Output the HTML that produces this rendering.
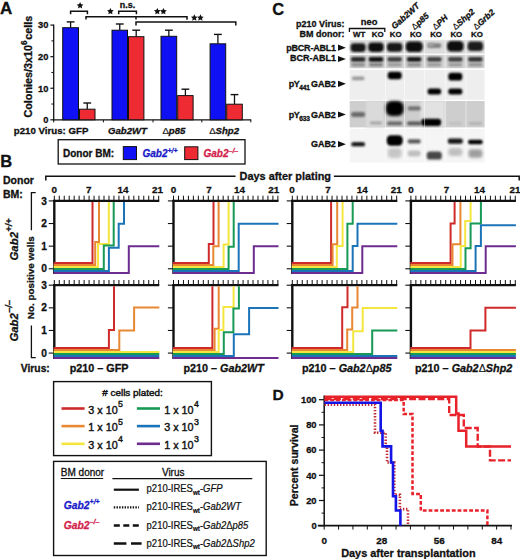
<!DOCTYPE html>
<html><head><meta charset="utf-8"><style>
html,body{margin:0;padding:0;background:#fff;}
body{width:520px;height:559px;overflow:hidden;font-family:"Liberation Sans",sans-serif;}
svg{display:block;}
</style></head><body>
<svg width="520" height="559" viewBox="0 0 520 559">
<rect width="520" height="559" fill="#fff"/>
<text x="0" y="14.4" font-family="Liberation Sans" font-weight="bold" font-size="17" text-anchor="start" fill="#111"  stroke="#111" stroke-width="0.3">A</text>
<text transform="translate(31.6,117.6) rotate(-90)" font-family="Liberation Sans" font-weight="bold" font-size="10.8" fill="#111" stroke="#111" stroke-width="0.3">Colonies/3x10<tspan font-size="8.2" dy="-4.6">6</tspan><tspan dy="4.6" dx="0.6">cells</tspan></text>
<line x1="53.7" y1="24.51999999999999" x2="53.7" y2="120.39999999999999" stroke="#111" stroke-width="1.3" />
<line x1="53.0" y1="119.8" x2="251.2" y2="119.8" stroke="#111" stroke-width="1.3" />
<line x1="50.4" y1="119.8" x2="53.7" y2="119.8" stroke="#111" stroke-width="1.2" />
<text x="48.4" y="123.1" font-family="Liberation Sans" font-weight="bold" font-size="9.3" text-anchor="end" fill="#111"  stroke="#111" stroke-width="0.3">0</text>
<line x1="50.4" y1="88.24" x2="53.7" y2="88.24" stroke="#111" stroke-width="1.2" />
<text x="48.4" y="91.53999999999999" font-family="Liberation Sans" font-weight="bold" font-size="9.3" text-anchor="end" fill="#111"  stroke="#111" stroke-width="0.3">10</text>
<line x1="50.4" y1="56.67999999999999" x2="53.7" y2="56.67999999999999" stroke="#111" stroke-width="1.2" />
<text x="48.4" y="59.97999999999999" font-family="Liberation Sans" font-weight="bold" font-size="9.3" text-anchor="end" fill="#111"  stroke="#111" stroke-width="0.3">20</text>
<line x1="50.4" y1="25.11999999999999" x2="53.7" y2="25.11999999999999" stroke="#111" stroke-width="1.2" />
<text x="48.4" y="28.41999999999999" font-family="Liberation Sans" font-weight="bold" font-size="9.3" text-anchor="end" fill="#111"  stroke="#111" stroke-width="0.3">30</text>
<line x1="51.4" y1="104.02" x2="53.7" y2="104.02" stroke="#111" stroke-width="1.0" />
<line x1="51.4" y1="72.46" x2="53.7" y2="72.46" stroke="#111" stroke-width="1.0" />
<line x1="51.4" y1="40.89999999999999" x2="53.7" y2="40.89999999999999" stroke="#111" stroke-width="1.0" />
<line x1="53.7" y1="119.8" x2="53.7" y2="122.39999999999999" stroke="#111" stroke-width="1.0" />
<line x1="103.4" y1="119.8" x2="103.4" y2="122.39999999999999" stroke="#111" stroke-width="1.0" />
<line x1="153.0" y1="119.8" x2="153.0" y2="122.39999999999999" stroke="#111" stroke-width="1.0" />
<line x1="201.8" y1="119.8" x2="201.8" y2="122.39999999999999" stroke="#111" stroke-width="1.0" />
<line x1="250.8" y1="119.8" x2="250.8" y2="122.39999999999999" stroke="#111" stroke-width="1.0" />
<line x1="70.6" y1="21.9" x2="70.6" y2="27.7" stroke="#111" stroke-width="1.3" />
<line x1="66.69999999999999" y1="21.9" x2="74.5" y2="21.9" stroke="#111" stroke-width="1.4" />
<rect x="62.7" y="27.7" width="15.799999999999997" height="92.1" fill="#1010f4" stroke="#111" stroke-width="1"/>
<line x1="87.25" y1="103.0" x2="87.25" y2="109.2" stroke="#111" stroke-width="1.3" />
<line x1="83.35" y1="103.0" x2="91.15" y2="103.0" stroke="#111" stroke-width="1.4" />
<rect x="79.5" y="109.2" width="15.5" height="10.599999999999994" fill="#ee2b33" stroke="#111" stroke-width="1"/>
<line x1="119.75" y1="24.0" x2="119.75" y2="30.2" stroke="#111" stroke-width="1.3" />
<line x1="115.85" y1="24.0" x2="123.65" y2="24.0" stroke="#111" stroke-width="1.4" />
<rect x="112.0" y="30.2" width="15.5" height="89.6" fill="#1010f4" stroke="#111" stroke-width="1"/>
<line x1="136.2" y1="30.2" x2="136.2" y2="36.7" stroke="#111" stroke-width="1.3" />
<line x1="132.29999999999998" y1="30.2" x2="140.1" y2="30.2" stroke="#111" stroke-width="1.4" />
<rect x="128.5" y="36.7" width="15.400000000000006" height="83.1" fill="#ee2b33" stroke="#111" stroke-width="1"/>
<line x1="168.85" y1="30.2" x2="168.85" y2="36.3" stroke="#111" stroke-width="1.3" />
<line x1="164.95" y1="30.2" x2="172.75" y2="30.2" stroke="#111" stroke-width="1.4" />
<rect x="161.0" y="36.3" width="15.699999999999989" height="83.5" fill="#1010f4" stroke="#111" stroke-width="1"/>
<line x1="185.39999999999998" y1="89.2" x2="185.39999999999998" y2="95.6" stroke="#111" stroke-width="1.3" />
<line x1="181.49999999999997" y1="89.2" x2="189.29999999999998" y2="89.2" stroke="#111" stroke-width="1.4" />
<rect x="177.7" y="95.6" width="15.400000000000006" height="24.200000000000003" fill="#ee2b33" stroke="#111" stroke-width="1"/>
<line x1="217.89999999999998" y1="34.4" x2="217.89999999999998" y2="43.8" stroke="#111" stroke-width="1.3" />
<line x1="213.99999999999997" y1="34.4" x2="221.79999999999998" y2="34.4" stroke="#111" stroke-width="1.4" />
<rect x="210.1" y="43.8" width="15.599999999999994" height="76.0" fill="#1010f4" stroke="#111" stroke-width="1"/>
<line x1="234.5" y1="94.6" x2="234.5" y2="104.2" stroke="#111" stroke-width="1.3" />
<line x1="230.6" y1="94.6" x2="238.4" y2="94.6" stroke="#111" stroke-width="1.4" />
<rect x="226.7" y="104.2" width="15.600000000000023" height="15.599999999999994" fill="#ee2b33" stroke="#111" stroke-width="1"/>
<path d="M70.6,14.2 V11.3 H87.4 V14.2" stroke="#111" stroke-width="1.5" fill="none" />
<polygon points="80.10,2.10 81.13,4.18 83.43,4.52 81.76,6.14 82.16,8.43 80.10,7.35 78.04,8.43 78.44,6.14 76.77,4.52 79.07,4.18" fill="#111"/>
<path d="M86.0,19.4 V16.7 H187.0 V19.7 M136.0,16.7 V19.4" stroke="#111" stroke-width="1.5" fill="none" />
<polygon points="110.40,7.90 111.43,9.98 113.73,10.32 112.06,11.94 112.46,14.23 110.40,13.15 108.34,14.23 108.74,11.94 107.07,10.32 109.37,9.98" fill="#111"/>
<path d="M118.7,14.2 V11.3 H136.4 V14.2" stroke="#111" stroke-width="1.5" fill="none" />
<text x="127.6" y="7.7" font-family="Liberation Sans" font-weight="bold" font-size="9.0" text-anchor="middle" fill="#111"  stroke="#111" stroke-width="0.3">n.s.</text>
<polygon points="157.30,7.90 158.33,9.98 160.63,10.32 158.96,11.94 159.36,14.23 157.30,13.15 155.24,14.23 155.64,11.94 153.97,10.32 156.27,9.98" fill="#111"/>
<polygon points="163.40,7.90 164.43,9.98 166.73,10.32 165.06,11.94 165.46,14.23 163.40,13.15 161.34,14.23 161.74,11.94 160.07,10.32 162.37,9.98" fill="#111"/>
<path d="M136.0,25.6 V21.9 H235.8 V25.6" stroke="#111" stroke-width="1.5" fill="none" />
<polygon points="194.30,14.30 195.33,16.38 197.63,16.72 195.96,18.34 196.36,20.63 194.30,19.55 192.24,20.63 192.64,18.34 190.97,16.72 193.27,16.38" fill="#111"/>
<polygon points="200.40,14.30 201.43,16.38 203.73,16.72 202.06,18.34 202.46,20.63 200.40,19.55 198.34,20.63 198.74,18.34 197.07,16.72 199.37,16.38" fill="#111"/>
<text x="13.8" y="133.6" font-family="Liberation Sans" font-weight="bold" font-size="9.7" text-anchor="start" fill="#111"  stroke="#111" stroke-width="0.3">p210 Virus: GFP</text>
<text x="108.0" y="133.6" font-family="Liberation Sans" font-weight="bold" font-size="9.6" text-anchor="start" fill="#111" font-style="italic"  stroke="#111" stroke-width="0.3">Gab2WT</text>
<text x="162.4" y="133.6" font-family="Liberation Sans" font-weight="bold" font-size="9.6" text-anchor="start" fill="#111" font-style="italic"  stroke="#111" stroke-width="0.3"><tspan font-style="normal" font-weight="normal" stroke-width="0.15">Δ</tspan>p85</text>
<text x="209.2" y="133.6" font-family="Liberation Sans" font-weight="bold" font-size="9.6" text-anchor="start" fill="#111" font-style="italic"  stroke="#111" stroke-width="0.3"><tspan font-style="normal" font-weight="normal" stroke-width="0.15">Δ</tspan>Shp2</text>
<rect x="58.2" y="139.7" width="186.8" height="24.3" fill="none" stroke="#111" stroke-width="1.3"/>
<text x="63.0" y="157.0" font-family="Liberation Sans" font-weight="bold" font-size="10.0" text-anchor="start" fill="#111"  stroke="#111" stroke-width="0.3">Donor BM:</text>
<rect x="123.3" y="146.6" width="13.2" height="13" fill="#1010f4" stroke="#111" stroke-width="1"/>
<text x="142.5" y="157.0" font-family="Liberation Sans" font-weight="bold" font-size="10.0" text-anchor="start" fill="#1c1cc8" font-style="italic"  stroke="#1c1cc8" stroke-width="0.3">Gab2<tspan font-size="7" dy="-4.5">+/+</tspan></text>
<rect x="184.7" y="146.8" width="13.2" height="12.8" fill="#ee2b33" stroke="#111" stroke-width="1"/>
<text x="203.5" y="157.0" font-family="Liberation Sans" font-weight="bold" font-size="10.0" text-anchor="start" fill="#d21f4c" font-style="italic"  stroke="#d21f4c" stroke-width="0.3">Gab2<tspan font-size="7" dy="-4.5">–/–</tspan></text>
<text x="0.3" y="167.2" font-family="Liberation Sans" font-weight="bold" font-size="16.5" text-anchor="start" fill="#111"  stroke="#111" stroke-width="0.3">B</text>
<text x="3.0" y="183.6" font-family="Liberation Sans" font-weight="bold" font-size="10.5" text-anchor="start" fill="#111"  stroke="#111" stroke-width="0.3">Donor</text>
<text x="3.0" y="197.8" font-family="Liberation Sans" font-weight="bold" font-size="10.5" text-anchor="start" fill="#111"  stroke="#111" stroke-width="0.3">BM:</text>
<path d="M45.8,180.4 V176.2 H235.6 M333.9,176.2 H519.2 V180.4" stroke="#111" stroke-width="1.5" fill="none" />
<text x="239.6" y="180.4" font-family="Liberation Sans" font-weight="bold" font-size="10.9" text-anchor="start" fill="#111"  stroke="#111" stroke-width="0.3">Days after plating</text>
<line x1="54.3" y1="195.70000000000002" x2="54.3" y2="200.9" stroke="#111" stroke-width="1.0" />
<line x1="59.269999999999996" y1="195.70000000000002" x2="59.269999999999996" y2="200.9" stroke="#111" stroke-width="1.0" />
<line x1="64.24" y1="195.70000000000002" x2="64.24" y2="200.9" stroke="#111" stroke-width="1.0" />
<line x1="69.21" y1="195.70000000000002" x2="69.21" y2="200.9" stroke="#111" stroke-width="1.0" />
<line x1="74.17999999999999" y1="195.70000000000002" x2="74.17999999999999" y2="200.9" stroke="#111" stroke-width="1.0" />
<line x1="79.14999999999999" y1="195.70000000000002" x2="79.14999999999999" y2="200.9" stroke="#111" stroke-width="1.0" />
<line x1="84.12" y1="195.70000000000002" x2="84.12" y2="200.9" stroke="#111" stroke-width="1.0" />
<line x1="89.09" y1="195.70000000000002" x2="89.09" y2="200.9" stroke="#111" stroke-width="1.0" />
<line x1="94.06" y1="195.70000000000002" x2="94.06" y2="200.9" stroke="#111" stroke-width="1.0" />
<line x1="99.03" y1="195.70000000000002" x2="99.03" y2="200.9" stroke="#111" stroke-width="1.0" />
<line x1="104.0" y1="195.70000000000002" x2="104.0" y2="200.9" stroke="#111" stroke-width="1.0" />
<line x1="108.97" y1="195.70000000000002" x2="108.97" y2="200.9" stroke="#111" stroke-width="1.0" />
<line x1="113.94" y1="195.70000000000002" x2="113.94" y2="200.9" stroke="#111" stroke-width="1.0" />
<line x1="118.91" y1="195.70000000000002" x2="118.91" y2="200.9" stroke="#111" stroke-width="1.0" />
<line x1="123.88" y1="195.70000000000002" x2="123.88" y2="200.9" stroke="#111" stroke-width="1.0" />
<line x1="128.85" y1="195.70000000000002" x2="128.85" y2="200.9" stroke="#111" stroke-width="1.0" />
<line x1="133.82" y1="195.70000000000002" x2="133.82" y2="200.9" stroke="#111" stroke-width="1.0" />
<line x1="138.79" y1="195.70000000000002" x2="138.79" y2="200.9" stroke="#111" stroke-width="1.0" />
<line x1="143.76" y1="195.70000000000002" x2="143.76" y2="200.9" stroke="#111" stroke-width="1.0" />
<line x1="148.73" y1="195.70000000000002" x2="148.73" y2="200.9" stroke="#111" stroke-width="1.0" />
<line x1="153.7" y1="195.70000000000002" x2="153.7" y2="200.9" stroke="#111" stroke-width="1.0" />
<line x1="158.67" y1="195.70000000000002" x2="158.67" y2="200.9" stroke="#111" stroke-width="1.0" />
<line x1="48.699999999999996" y1="268.79" x2="54.3" y2="268.79" stroke="#111" stroke-width="1.1" />
<line x1="48.699999999999996" y1="246.16000000000003" x2="54.3" y2="246.16000000000003" stroke="#111" stroke-width="1.1" />
<line x1="48.699999999999996" y1="223.53000000000003" x2="54.3" y2="223.53000000000003" stroke="#111" stroke-width="1.1" />
<line x1="48.699999999999996" y1="200.90000000000003" x2="54.3" y2="200.90000000000003" stroke="#111" stroke-width="1.1" />
<text x="46.8" y="272.39000000000004" font-family="Liberation Sans" font-weight="bold" font-size="10.2" text-anchor="end" fill="#111"  stroke="#111" stroke-width="0.3">0</text>
<text x="46.8" y="249.76000000000002" font-family="Liberation Sans" font-weight="bold" font-size="10.2" text-anchor="end" fill="#111"  stroke="#111" stroke-width="0.3">1</text>
<text x="46.8" y="227.13000000000002" font-family="Liberation Sans" font-weight="bold" font-size="10.2" text-anchor="end" fill="#111"  stroke="#111" stroke-width="0.3">2</text>
<text x="46.8" y="204.50000000000003" font-family="Liberation Sans" font-weight="bold" font-size="10.2" text-anchor="end" fill="#111"  stroke="#111" stroke-width="0.3">3</text>
<text x="54.3" y="192.8" font-family="Liberation Sans" font-weight="bold" font-size="9.9" text-anchor="middle" fill="#111"  stroke="#111" stroke-width="0.3">0</text>
<text x="88.7" y="192.8" font-family="Liberation Sans" font-weight="bold" font-size="9.9" text-anchor="middle" fill="#111"  stroke="#111" stroke-width="0.3">7</text>
<text x="123.0" y="192.8" font-family="Liberation Sans" font-weight="bold" font-size="9.9" text-anchor="middle" fill="#111"  stroke="#111" stroke-width="0.3">14</text>
<text x="157.4" y="192.8" font-family="Liberation Sans" font-weight="bold" font-size="9.9" text-anchor="middle" fill="#111"  stroke="#111" stroke-width="0.3">21</text>
<line x1="173.5" y1="195.70000000000002" x2="173.5" y2="200.9" stroke="#111" stroke-width="1.0" />
<line x1="178.47" y1="195.70000000000002" x2="178.47" y2="200.9" stroke="#111" stroke-width="1.0" />
<line x1="183.44" y1="195.70000000000002" x2="183.44" y2="200.9" stroke="#111" stroke-width="1.0" />
<line x1="188.41" y1="195.70000000000002" x2="188.41" y2="200.9" stroke="#111" stroke-width="1.0" />
<line x1="193.38" y1="195.70000000000002" x2="193.38" y2="200.9" stroke="#111" stroke-width="1.0" />
<line x1="198.35" y1="195.70000000000002" x2="198.35" y2="200.9" stroke="#111" stroke-width="1.0" />
<line x1="203.32" y1="195.70000000000002" x2="203.32" y2="200.9" stroke="#111" stroke-width="1.0" />
<line x1="208.29" y1="195.70000000000002" x2="208.29" y2="200.9" stroke="#111" stroke-width="1.0" />
<line x1="213.26" y1="195.70000000000002" x2="213.26" y2="200.9" stroke="#111" stroke-width="1.0" />
<line x1="218.23" y1="195.70000000000002" x2="218.23" y2="200.9" stroke="#111" stroke-width="1.0" />
<line x1="223.2" y1="195.70000000000002" x2="223.2" y2="200.9" stroke="#111" stroke-width="1.0" />
<line x1="228.17" y1="195.70000000000002" x2="228.17" y2="200.9" stroke="#111" stroke-width="1.0" />
<line x1="233.14" y1="195.70000000000002" x2="233.14" y2="200.9" stroke="#111" stroke-width="1.0" />
<line x1="238.11" y1="195.70000000000002" x2="238.11" y2="200.9" stroke="#111" stroke-width="1.0" />
<line x1="243.07999999999998" y1="195.70000000000002" x2="243.07999999999998" y2="200.9" stroke="#111" stroke-width="1.0" />
<line x1="248.05" y1="195.70000000000002" x2="248.05" y2="200.9" stroke="#111" stroke-width="1.0" />
<line x1="253.01999999999998" y1="195.70000000000002" x2="253.01999999999998" y2="200.9" stroke="#111" stroke-width="1.0" />
<line x1="257.99" y1="195.70000000000002" x2="257.99" y2="200.9" stroke="#111" stroke-width="1.0" />
<line x1="262.96" y1="195.70000000000002" x2="262.96" y2="200.9" stroke="#111" stroke-width="1.0" />
<line x1="267.93" y1="195.70000000000002" x2="267.93" y2="200.9" stroke="#111" stroke-width="1.0" />
<line x1="272.9" y1="195.70000000000002" x2="272.9" y2="200.9" stroke="#111" stroke-width="1.0" />
<line x1="277.87" y1="195.70000000000002" x2="277.87" y2="200.9" stroke="#111" stroke-width="1.0" />
<line x1="167.9" y1="268.79" x2="173.5" y2="268.79" stroke="#111" stroke-width="1.1" />
<line x1="167.9" y1="246.16000000000003" x2="173.5" y2="246.16000000000003" stroke="#111" stroke-width="1.1" />
<line x1="167.9" y1="223.53000000000003" x2="173.5" y2="223.53000000000003" stroke="#111" stroke-width="1.1" />
<line x1="167.9" y1="200.90000000000003" x2="173.5" y2="200.90000000000003" stroke="#111" stroke-width="1.1" />
<text x="173.6" y="192.8" font-family="Liberation Sans" font-weight="bold" font-size="9.9" text-anchor="middle" fill="#111"  stroke="#111" stroke-width="0.3">0</text>
<text x="209.1" y="192.8" font-family="Liberation Sans" font-weight="bold" font-size="9.9" text-anchor="middle" fill="#111"  stroke="#111" stroke-width="0.3">7</text>
<text x="239.6" y="192.8" font-family="Liberation Sans" font-weight="bold" font-size="9.9" text-anchor="middle" fill="#111"  stroke="#111" stroke-width="0.3">14</text>
<text x="273.8" y="192.8" font-family="Liberation Sans" font-weight="bold" font-size="9.9" text-anchor="middle" fill="#111"  stroke="#111" stroke-width="0.3">21</text>
<line x1="292.3" y1="195.70000000000002" x2="292.3" y2="200.9" stroke="#111" stroke-width="1.0" />
<line x1="297.27000000000004" y1="195.70000000000002" x2="297.27000000000004" y2="200.9" stroke="#111" stroke-width="1.0" />
<line x1="302.24" y1="195.70000000000002" x2="302.24" y2="200.9" stroke="#111" stroke-width="1.0" />
<line x1="307.21000000000004" y1="195.70000000000002" x2="307.21000000000004" y2="200.9" stroke="#111" stroke-width="1.0" />
<line x1="312.18" y1="195.70000000000002" x2="312.18" y2="200.9" stroke="#111" stroke-width="1.0" />
<line x1="317.15000000000003" y1="195.70000000000002" x2="317.15000000000003" y2="200.9" stroke="#111" stroke-width="1.0" />
<line x1="322.12" y1="195.70000000000002" x2="322.12" y2="200.9" stroke="#111" stroke-width="1.0" />
<line x1="327.09000000000003" y1="195.70000000000002" x2="327.09000000000003" y2="200.9" stroke="#111" stroke-width="1.0" />
<line x1="332.06" y1="195.70000000000002" x2="332.06" y2="200.9" stroke="#111" stroke-width="1.0" />
<line x1="337.03000000000003" y1="195.70000000000002" x2="337.03000000000003" y2="200.9" stroke="#111" stroke-width="1.0" />
<line x1="342.0" y1="195.70000000000002" x2="342.0" y2="200.9" stroke="#111" stroke-width="1.0" />
<line x1="346.97" y1="195.70000000000002" x2="346.97" y2="200.9" stroke="#111" stroke-width="1.0" />
<line x1="351.94" y1="195.70000000000002" x2="351.94" y2="200.9" stroke="#111" stroke-width="1.0" />
<line x1="356.91" y1="195.70000000000002" x2="356.91" y2="200.9" stroke="#111" stroke-width="1.0" />
<line x1="361.88" y1="195.70000000000002" x2="361.88" y2="200.9" stroke="#111" stroke-width="1.0" />
<line x1="366.85" y1="195.70000000000002" x2="366.85" y2="200.9" stroke="#111" stroke-width="1.0" />
<line x1="371.82" y1="195.70000000000002" x2="371.82" y2="200.9" stroke="#111" stroke-width="1.0" />
<line x1="376.79" y1="195.70000000000002" x2="376.79" y2="200.9" stroke="#111" stroke-width="1.0" />
<line x1="381.76" y1="195.70000000000002" x2="381.76" y2="200.9" stroke="#111" stroke-width="1.0" />
<line x1="386.73" y1="195.70000000000002" x2="386.73" y2="200.9" stroke="#111" stroke-width="1.0" />
<line x1="391.7" y1="195.70000000000002" x2="391.7" y2="200.9" stroke="#111" stroke-width="1.0" />
<line x1="396.67" y1="195.70000000000002" x2="396.67" y2="200.9" stroke="#111" stroke-width="1.0" />
<line x1="286.7" y1="268.79" x2="292.3" y2="268.79" stroke="#111" stroke-width="1.1" />
<line x1="286.7" y1="246.16000000000003" x2="292.3" y2="246.16000000000003" stroke="#111" stroke-width="1.1" />
<line x1="286.7" y1="223.53000000000003" x2="292.3" y2="223.53000000000003" stroke="#111" stroke-width="1.1" />
<line x1="286.7" y1="200.90000000000003" x2="292.3" y2="200.90000000000003" stroke="#111" stroke-width="1.1" />
<text x="292.1" y="192.8" font-family="Liberation Sans" font-weight="bold" font-size="9.9" text-anchor="middle" fill="#111"  stroke="#111" stroke-width="0.3">0</text>
<text x="328.0" y="192.8" font-family="Liberation Sans" font-weight="bold" font-size="9.9" text-anchor="middle" fill="#111"  stroke="#111" stroke-width="0.3">7</text>
<text x="362.3" y="192.8" font-family="Liberation Sans" font-weight="bold" font-size="9.9" text-anchor="middle" fill="#111"  stroke="#111" stroke-width="0.3">14</text>
<text x="396.2" y="192.8" font-family="Liberation Sans" font-weight="bold" font-size="9.9" text-anchor="middle" fill="#111"  stroke="#111" stroke-width="0.3">21</text>
<line x1="410.9" y1="195.70000000000002" x2="410.9" y2="200.9" stroke="#111" stroke-width="1.0" />
<line x1="415.87" y1="195.70000000000002" x2="415.87" y2="200.9" stroke="#111" stroke-width="1.0" />
<line x1="420.84" y1="195.70000000000002" x2="420.84" y2="200.9" stroke="#111" stroke-width="1.0" />
<line x1="425.81" y1="195.70000000000002" x2="425.81" y2="200.9" stroke="#111" stroke-width="1.0" />
<line x1="430.78" y1="195.70000000000002" x2="430.78" y2="200.9" stroke="#111" stroke-width="1.0" />
<line x1="435.75" y1="195.70000000000002" x2="435.75" y2="200.9" stroke="#111" stroke-width="1.0" />
<line x1="440.71999999999997" y1="195.70000000000002" x2="440.71999999999997" y2="200.9" stroke="#111" stroke-width="1.0" />
<line x1="445.69" y1="195.70000000000002" x2="445.69" y2="200.9" stroke="#111" stroke-width="1.0" />
<line x1="450.65999999999997" y1="195.70000000000002" x2="450.65999999999997" y2="200.9" stroke="#111" stroke-width="1.0" />
<line x1="455.63" y1="195.70000000000002" x2="455.63" y2="200.9" stroke="#111" stroke-width="1.0" />
<line x1="460.59999999999997" y1="195.70000000000002" x2="460.59999999999997" y2="200.9" stroke="#111" stroke-width="1.0" />
<line x1="465.57" y1="195.70000000000002" x2="465.57" y2="200.9" stroke="#111" stroke-width="1.0" />
<line x1="470.53999999999996" y1="195.70000000000002" x2="470.53999999999996" y2="200.9" stroke="#111" stroke-width="1.0" />
<line x1="475.51" y1="195.70000000000002" x2="475.51" y2="200.9" stroke="#111" stroke-width="1.0" />
<line x1="480.47999999999996" y1="195.70000000000002" x2="480.47999999999996" y2="200.9" stroke="#111" stroke-width="1.0" />
<line x1="485.45" y1="195.70000000000002" x2="485.45" y2="200.9" stroke="#111" stroke-width="1.0" />
<line x1="490.41999999999996" y1="195.70000000000002" x2="490.41999999999996" y2="200.9" stroke="#111" stroke-width="1.0" />
<line x1="495.39" y1="195.70000000000002" x2="495.39" y2="200.9" stroke="#111" stroke-width="1.0" />
<line x1="500.35999999999996" y1="195.70000000000002" x2="500.35999999999996" y2="200.9" stroke="#111" stroke-width="1.0" />
<line x1="505.33" y1="195.70000000000002" x2="505.33" y2="200.9" stroke="#111" stroke-width="1.0" />
<line x1="510.29999999999995" y1="195.70000000000002" x2="510.29999999999995" y2="200.9" stroke="#111" stroke-width="1.0" />
<line x1="515.27" y1="195.70000000000002" x2="515.27" y2="200.9" stroke="#111" stroke-width="1.0" />
<line x1="405.29999999999995" y1="268.79" x2="410.9" y2="268.79" stroke="#111" stroke-width="1.1" />
<line x1="405.29999999999995" y1="246.16000000000003" x2="410.9" y2="246.16000000000003" stroke="#111" stroke-width="1.1" />
<line x1="405.29999999999995" y1="223.53000000000003" x2="410.9" y2="223.53000000000003" stroke="#111" stroke-width="1.1" />
<line x1="405.29999999999995" y1="200.90000000000003" x2="410.9" y2="200.90000000000003" stroke="#111" stroke-width="1.1" />
<text x="411.0" y="192.8" font-family="Liberation Sans" font-weight="bold" font-size="9.9" text-anchor="middle" fill="#111"  stroke="#111" stroke-width="0.3">0</text>
<text x="446.5" y="192.8" font-family="Liberation Sans" font-weight="bold" font-size="9.9" text-anchor="middle" fill="#111"  stroke="#111" stroke-width="0.3">7</text>
<text x="479.6" y="192.8" font-family="Liberation Sans" font-weight="bold" font-size="9.9" text-anchor="middle" fill="#111"  stroke="#111" stroke-width="0.3">14</text>
<text x="515.0" y="192.8" font-family="Liberation Sans" font-weight="bold" font-size="9.9" text-anchor="middle" fill="#111"  stroke="#111" stroke-width="0.3">21</text>
<line x1="54.3" y1="280.0" x2="54.3" y2="285.2" stroke="#111" stroke-width="1.0" />
<line x1="59.269999999999996" y1="280.0" x2="59.269999999999996" y2="285.2" stroke="#111" stroke-width="1.0" />
<line x1="64.24" y1="280.0" x2="64.24" y2="285.2" stroke="#111" stroke-width="1.0" />
<line x1="69.21" y1="280.0" x2="69.21" y2="285.2" stroke="#111" stroke-width="1.0" />
<line x1="74.17999999999999" y1="280.0" x2="74.17999999999999" y2="285.2" stroke="#111" stroke-width="1.0" />
<line x1="79.14999999999999" y1="280.0" x2="79.14999999999999" y2="285.2" stroke="#111" stroke-width="1.0" />
<line x1="84.12" y1="280.0" x2="84.12" y2="285.2" stroke="#111" stroke-width="1.0" />
<line x1="89.09" y1="280.0" x2="89.09" y2="285.2" stroke="#111" stroke-width="1.0" />
<line x1="94.06" y1="280.0" x2="94.06" y2="285.2" stroke="#111" stroke-width="1.0" />
<line x1="99.03" y1="280.0" x2="99.03" y2="285.2" stroke="#111" stroke-width="1.0" />
<line x1="104.0" y1="280.0" x2="104.0" y2="285.2" stroke="#111" stroke-width="1.0" />
<line x1="108.97" y1="280.0" x2="108.97" y2="285.2" stroke="#111" stroke-width="1.0" />
<line x1="113.94" y1="280.0" x2="113.94" y2="285.2" stroke="#111" stroke-width="1.0" />
<line x1="118.91" y1="280.0" x2="118.91" y2="285.2" stroke="#111" stroke-width="1.0" />
<line x1="123.88" y1="280.0" x2="123.88" y2="285.2" stroke="#111" stroke-width="1.0" />
<line x1="128.85" y1="280.0" x2="128.85" y2="285.2" stroke="#111" stroke-width="1.0" />
<line x1="133.82" y1="280.0" x2="133.82" y2="285.2" stroke="#111" stroke-width="1.0" />
<line x1="138.79" y1="280.0" x2="138.79" y2="285.2" stroke="#111" stroke-width="1.0" />
<line x1="143.76" y1="280.0" x2="143.76" y2="285.2" stroke="#111" stroke-width="1.0" />
<line x1="148.73" y1="280.0" x2="148.73" y2="285.2" stroke="#111" stroke-width="1.0" />
<line x1="153.7" y1="280.0" x2="153.7" y2="285.2" stroke="#111" stroke-width="1.0" />
<line x1="158.67" y1="280.0" x2="158.67" y2="285.2" stroke="#111" stroke-width="1.0" />
<line x1="48.699999999999996" y1="353.09" x2="54.3" y2="353.09" stroke="#111" stroke-width="1.1" />
<line x1="48.699999999999996" y1="330.46" x2="54.3" y2="330.46" stroke="#111" stroke-width="1.1" />
<line x1="48.699999999999996" y1="307.83" x2="54.3" y2="307.83" stroke="#111" stroke-width="1.1" />
<line x1="48.699999999999996" y1="285.2" x2="54.3" y2="285.2" stroke="#111" stroke-width="1.1" />
<text x="46.8" y="356.69" font-family="Liberation Sans" font-weight="bold" font-size="10.2" text-anchor="end" fill="#111"  stroke="#111" stroke-width="0.3">0</text>
<text x="46.8" y="334.06" font-family="Liberation Sans" font-weight="bold" font-size="10.2" text-anchor="end" fill="#111"  stroke="#111" stroke-width="0.3">1</text>
<text x="46.8" y="311.43" font-family="Liberation Sans" font-weight="bold" font-size="10.2" text-anchor="end" fill="#111"  stroke="#111" stroke-width="0.3">2</text>
<text x="46.8" y="288.8" font-family="Liberation Sans" font-weight="bold" font-size="10.2" text-anchor="end" fill="#111"  stroke="#111" stroke-width="0.3">3</text>
<line x1="173.5" y1="280.0" x2="173.5" y2="285.2" stroke="#111" stroke-width="1.0" />
<line x1="178.47" y1="280.0" x2="178.47" y2="285.2" stroke="#111" stroke-width="1.0" />
<line x1="183.44" y1="280.0" x2="183.44" y2="285.2" stroke="#111" stroke-width="1.0" />
<line x1="188.41" y1="280.0" x2="188.41" y2="285.2" stroke="#111" stroke-width="1.0" />
<line x1="193.38" y1="280.0" x2="193.38" y2="285.2" stroke="#111" stroke-width="1.0" />
<line x1="198.35" y1="280.0" x2="198.35" y2="285.2" stroke="#111" stroke-width="1.0" />
<line x1="203.32" y1="280.0" x2="203.32" y2="285.2" stroke="#111" stroke-width="1.0" />
<line x1="208.29" y1="280.0" x2="208.29" y2="285.2" stroke="#111" stroke-width="1.0" />
<line x1="213.26" y1="280.0" x2="213.26" y2="285.2" stroke="#111" stroke-width="1.0" />
<line x1="218.23" y1="280.0" x2="218.23" y2="285.2" stroke="#111" stroke-width="1.0" />
<line x1="223.2" y1="280.0" x2="223.2" y2="285.2" stroke="#111" stroke-width="1.0" />
<line x1="228.17" y1="280.0" x2="228.17" y2="285.2" stroke="#111" stroke-width="1.0" />
<line x1="233.14" y1="280.0" x2="233.14" y2="285.2" stroke="#111" stroke-width="1.0" />
<line x1="238.11" y1="280.0" x2="238.11" y2="285.2" stroke="#111" stroke-width="1.0" />
<line x1="243.07999999999998" y1="280.0" x2="243.07999999999998" y2="285.2" stroke="#111" stroke-width="1.0" />
<line x1="248.05" y1="280.0" x2="248.05" y2="285.2" stroke="#111" stroke-width="1.0" />
<line x1="253.01999999999998" y1="280.0" x2="253.01999999999998" y2="285.2" stroke="#111" stroke-width="1.0" />
<line x1="257.99" y1="280.0" x2="257.99" y2="285.2" stroke="#111" stroke-width="1.0" />
<line x1="262.96" y1="280.0" x2="262.96" y2="285.2" stroke="#111" stroke-width="1.0" />
<line x1="267.93" y1="280.0" x2="267.93" y2="285.2" stroke="#111" stroke-width="1.0" />
<line x1="272.9" y1="280.0" x2="272.9" y2="285.2" stroke="#111" stroke-width="1.0" />
<line x1="277.87" y1="280.0" x2="277.87" y2="285.2" stroke="#111" stroke-width="1.0" />
<line x1="167.9" y1="353.09" x2="173.5" y2="353.09" stroke="#111" stroke-width="1.1" />
<line x1="167.9" y1="330.46" x2="173.5" y2="330.46" stroke="#111" stroke-width="1.1" />
<line x1="167.9" y1="307.83" x2="173.5" y2="307.83" stroke="#111" stroke-width="1.1" />
<line x1="167.9" y1="285.2" x2="173.5" y2="285.2" stroke="#111" stroke-width="1.1" />
<line x1="292.3" y1="280.0" x2="292.3" y2="285.2" stroke="#111" stroke-width="1.0" />
<line x1="297.27000000000004" y1="280.0" x2="297.27000000000004" y2="285.2" stroke="#111" stroke-width="1.0" />
<line x1="302.24" y1="280.0" x2="302.24" y2="285.2" stroke="#111" stroke-width="1.0" />
<line x1="307.21000000000004" y1="280.0" x2="307.21000000000004" y2="285.2" stroke="#111" stroke-width="1.0" />
<line x1="312.18" y1="280.0" x2="312.18" y2="285.2" stroke="#111" stroke-width="1.0" />
<line x1="317.15000000000003" y1="280.0" x2="317.15000000000003" y2="285.2" stroke="#111" stroke-width="1.0" />
<line x1="322.12" y1="280.0" x2="322.12" y2="285.2" stroke="#111" stroke-width="1.0" />
<line x1="327.09000000000003" y1="280.0" x2="327.09000000000003" y2="285.2" stroke="#111" stroke-width="1.0" />
<line x1="332.06" y1="280.0" x2="332.06" y2="285.2" stroke="#111" stroke-width="1.0" />
<line x1="337.03000000000003" y1="280.0" x2="337.03000000000003" y2="285.2" stroke="#111" stroke-width="1.0" />
<line x1="342.0" y1="280.0" x2="342.0" y2="285.2" stroke="#111" stroke-width="1.0" />
<line x1="346.97" y1="280.0" x2="346.97" y2="285.2" stroke="#111" stroke-width="1.0" />
<line x1="351.94" y1="280.0" x2="351.94" y2="285.2" stroke="#111" stroke-width="1.0" />
<line x1="356.91" y1="280.0" x2="356.91" y2="285.2" stroke="#111" stroke-width="1.0" />
<line x1="361.88" y1="280.0" x2="361.88" y2="285.2" stroke="#111" stroke-width="1.0" />
<line x1="366.85" y1="280.0" x2="366.85" y2="285.2" stroke="#111" stroke-width="1.0" />
<line x1="371.82" y1="280.0" x2="371.82" y2="285.2" stroke="#111" stroke-width="1.0" />
<line x1="376.79" y1="280.0" x2="376.79" y2="285.2" stroke="#111" stroke-width="1.0" />
<line x1="381.76" y1="280.0" x2="381.76" y2="285.2" stroke="#111" stroke-width="1.0" />
<line x1="386.73" y1="280.0" x2="386.73" y2="285.2" stroke="#111" stroke-width="1.0" />
<line x1="391.7" y1="280.0" x2="391.7" y2="285.2" stroke="#111" stroke-width="1.0" />
<line x1="396.67" y1="280.0" x2="396.67" y2="285.2" stroke="#111" stroke-width="1.0" />
<line x1="286.7" y1="353.09" x2="292.3" y2="353.09" stroke="#111" stroke-width="1.1" />
<line x1="286.7" y1="330.46" x2="292.3" y2="330.46" stroke="#111" stroke-width="1.1" />
<line x1="286.7" y1="307.83" x2="292.3" y2="307.83" stroke="#111" stroke-width="1.1" />
<line x1="286.7" y1="285.2" x2="292.3" y2="285.2" stroke="#111" stroke-width="1.1" />
<line x1="410.9" y1="280.0" x2="410.9" y2="285.2" stroke="#111" stroke-width="1.0" />
<line x1="415.87" y1="280.0" x2="415.87" y2="285.2" stroke="#111" stroke-width="1.0" />
<line x1="420.84" y1="280.0" x2="420.84" y2="285.2" stroke="#111" stroke-width="1.0" />
<line x1="425.81" y1="280.0" x2="425.81" y2="285.2" stroke="#111" stroke-width="1.0" />
<line x1="430.78" y1="280.0" x2="430.78" y2="285.2" stroke="#111" stroke-width="1.0" />
<line x1="435.75" y1="280.0" x2="435.75" y2="285.2" stroke="#111" stroke-width="1.0" />
<line x1="440.71999999999997" y1="280.0" x2="440.71999999999997" y2="285.2" stroke="#111" stroke-width="1.0" />
<line x1="445.69" y1="280.0" x2="445.69" y2="285.2" stroke="#111" stroke-width="1.0" />
<line x1="450.65999999999997" y1="280.0" x2="450.65999999999997" y2="285.2" stroke="#111" stroke-width="1.0" />
<line x1="455.63" y1="280.0" x2="455.63" y2="285.2" stroke="#111" stroke-width="1.0" />
<line x1="460.59999999999997" y1="280.0" x2="460.59999999999997" y2="285.2" stroke="#111" stroke-width="1.0" />
<line x1="465.57" y1="280.0" x2="465.57" y2="285.2" stroke="#111" stroke-width="1.0" />
<line x1="470.53999999999996" y1="280.0" x2="470.53999999999996" y2="285.2" stroke="#111" stroke-width="1.0" />
<line x1="475.51" y1="280.0" x2="475.51" y2="285.2" stroke="#111" stroke-width="1.0" />
<line x1="480.47999999999996" y1="280.0" x2="480.47999999999996" y2="285.2" stroke="#111" stroke-width="1.0" />
<line x1="485.45" y1="280.0" x2="485.45" y2="285.2" stroke="#111" stroke-width="1.0" />
<line x1="490.41999999999996" y1="280.0" x2="490.41999999999996" y2="285.2" stroke="#111" stroke-width="1.0" />
<line x1="495.39" y1="280.0" x2="495.39" y2="285.2" stroke="#111" stroke-width="1.0" />
<line x1="500.35999999999996" y1="280.0" x2="500.35999999999996" y2="285.2" stroke="#111" stroke-width="1.0" />
<line x1="505.33" y1="280.0" x2="505.33" y2="285.2" stroke="#111" stroke-width="1.0" />
<line x1="510.29999999999995" y1="280.0" x2="510.29999999999995" y2="285.2" stroke="#111" stroke-width="1.0" />
<line x1="515.27" y1="280.0" x2="515.27" y2="285.2" stroke="#111" stroke-width="1.0" />
<line x1="405.29999999999995" y1="353.09" x2="410.9" y2="353.09" stroke="#111" stroke-width="1.1" />
<line x1="405.29999999999995" y1="330.46" x2="410.9" y2="330.46" stroke="#111" stroke-width="1.1" />
<line x1="405.29999999999995" y1="307.83" x2="410.9" y2="307.83" stroke="#111" stroke-width="1.1" />
<line x1="405.29999999999995" y1="285.2" x2="410.9" y2="285.2" stroke="#111" stroke-width="1.1" />
<line x1="53.3" y1="200.9" x2="159.26999999999998" y2="200.9" stroke="#111" stroke-width="2.2" />
<line x1="54.3" y1="199.8" x2="54.3" y2="274.0" stroke="#111" stroke-width="2.4" />
<path d="M53.7,263.0 L92.5,263.0 L92.5,201.9" stroke="#cf2a2b" stroke-width="2" fill="none" stroke-linejoin="miter"/>
<path d="M53.7,265.0 L95.2,265.0 L95.2,242.0 L99.0,242.0 L99.0,201.9" stroke="#e98832" stroke-width="2" fill="none" stroke-linejoin="miter"/>
<path d="M53.7,267.0 L98.0,267.0 L98.0,244.0 L108.8,244.0 L108.8,201.9" stroke="#f4e63e" stroke-width="2" fill="none" stroke-linejoin="miter"/>
<path d="M53.7,269.0 L103.8,269.0 L103.8,245.4 L113.7,245.4 L113.7,201.9" stroke="#169a55" stroke-width="2" fill="none" stroke-linejoin="miter"/>
<path d="M53.7,271.0 L108.9,271.0 L108.9,247.8 L118.7,247.8 L118.7,223.8 L124.0,223.8 L124.0,201.9" stroke="#1b74b8" stroke-width="2" fill="none" stroke-linejoin="miter"/>
<path d="M53.7,273.0 L128.8,273.0 L128.8,246.3 L159.3,246.3" stroke="#6e2d8e" stroke-width="2" fill="none" stroke-linejoin="miter"/>
<line x1="172.5" y1="200.9" x2="278.47" y2="200.9" stroke="#111" stroke-width="2.2" />
<line x1="173.5" y1="199.8" x2="173.5" y2="274.0" stroke="#111" stroke-width="2.4" />
<path d="M172.9,263.0 L208.8,263.0 L208.8,244.0 L213.5,244.0 L213.5,201.9" stroke="#cf2a2b" stroke-width="2" fill="none" stroke-linejoin="miter"/>
<path d="M172.9,265.0 L213.3,265.0 L213.3,246.3 L218.6,246.3 L218.6,201.9" stroke="#e98832" stroke-width="2" fill="none" stroke-linejoin="miter"/>
<path d="M172.9,267.0 L223.6,267.0 L223.6,244.4 L228.6,244.4 L228.6,201.9" stroke="#f4e63e" stroke-width="2" fill="none" stroke-linejoin="miter"/>
<path d="M172.9,269.0 L228.6,269.0 L228.6,246.8 L233.7,246.8 L233.7,201.9" stroke="#169a55" stroke-width="2" fill="none" stroke-linejoin="miter"/>
<path d="M172.9,271.0 L238.7,271.0 L238.7,223.7 L278.5,223.7" stroke="#1b74b8" stroke-width="2" fill="none" stroke-linejoin="miter"/>
<path d="M172.9,273.0 L253.8,273.0 L253.8,246.3 L278.5,246.3" stroke="#6e2d8e" stroke-width="2" fill="none" stroke-linejoin="miter"/>
<line x1="291.3" y1="200.9" x2="397.27000000000004" y2="200.9" stroke="#111" stroke-width="2.2" />
<line x1="292.3" y1="199.8" x2="292.3" y2="274.0" stroke="#111" stroke-width="2.4" />
<path d="M291.7,263.0 L331.1,263.0 L331.1,201.9" stroke="#cf2a2b" stroke-width="2" fill="none" stroke-linejoin="miter"/>
<path d="M291.7,265.0 L332.6,265.0 L332.6,244.2 L337.2,244.2 L337.2,201.9" stroke="#e98832" stroke-width="2" fill="none" stroke-linejoin="miter"/>
<path d="M291.7,267.0 L336.8,267.0 L336.8,245.9 L342.6,245.9 L342.6,201.9" stroke="#f4e63e" stroke-width="2" fill="none" stroke-linejoin="miter"/>
<path d="M291.7,269.0 L347.4,269.0 L347.4,223.7 L352.7,223.7 L352.7,201.9" stroke="#169a55" stroke-width="2" fill="none" stroke-linejoin="miter"/>
<path d="M291.7,271.0 L352.7,271.0 L352.7,245.9 L357.5,245.9 L357.5,223.7 L397.3,223.7" stroke="#1b74b8" stroke-width="2" fill="none" stroke-linejoin="miter"/>
<path d="M291.7,273.0 L362.3,273.0 L362.3,246.3 L397.3,246.3" stroke="#6e2d8e" stroke-width="2" fill="none" stroke-linejoin="miter"/>
<line x1="409.9" y1="200.9" x2="515.87" y2="200.9" stroke="#111" stroke-width="2.2" />
<line x1="410.9" y1="199.8" x2="410.9" y2="274.0" stroke="#111" stroke-width="2.4" />
<path d="M410.3,263.0 L450.6,263.0 L450.6,223.4 L454.6,223.4 L454.6,201.9" stroke="#cf2a2b" stroke-width="2" fill="none" stroke-linejoin="miter"/>
<path d="M410.3,265.0 L452.5,265.0 L452.5,244.2 L460.4,244.2 L460.4,201.9" stroke="#e98832" stroke-width="2" fill="none" stroke-linejoin="miter"/>
<path d="M410.3,267.0 L460.7,267.0 L460.7,246.0 L465.2,246.0 L465.2,221.0 L470.6,221.0 L470.6,201.9" stroke="#f4e63e" stroke-width="2" fill="none" stroke-linejoin="miter"/>
<path d="M410.3,269.0 L465.5,269.0 L465.5,248.3 L470.6,248.3 L470.6,223.4 L480.9,223.4 L480.9,201.9" stroke="#169a55" stroke-width="2" fill="none" stroke-linejoin="miter"/>
<path d="M410.3,271.0 L475.6,271.0 L475.6,245.9 L480.9,245.9 L480.9,225.3 L515.9,225.3" stroke="#1b74b8" stroke-width="2" fill="none" stroke-linejoin="miter"/>
<path d="M410.3,273.0 L485.7,273.0 L485.7,246.3 L515.9,246.3" stroke="#6e2d8e" stroke-width="2" fill="none" stroke-linejoin="miter"/>
<line x1="53.3" y1="285.2" x2="159.26999999999998" y2="285.2" stroke="#111" stroke-width="2.2" />
<line x1="54.3" y1="284.09999999999997" x2="54.3" y2="359.0" stroke="#111" stroke-width="2.4" />
<path d="M53.7,348.0 L108.9,348.0 L108.9,330.1 L114.0,330.1 L114.0,286.2" stroke="#cf2a2b" stroke-width="2" fill="none" stroke-linejoin="miter"/>
<path d="M53.7,350.0 L119.3,350.0 L119.3,330.5 L134.1,330.5 L134.1,307.5 L159.3,307.5" stroke="#e98832" stroke-width="2" fill="none" stroke-linejoin="miter"/>
<path d="M53.7,352.0 L159.3,352.0" stroke="#f4e63e" stroke-width="2" fill="none" stroke-linejoin="miter"/>
<path d="M53.7,354.0 L159.3,354.0" stroke="#169a55" stroke-width="2" fill="none" stroke-linejoin="miter"/>
<path d="M53.7,356.0 L159.3,356.0" stroke="#1b74b8" stroke-width="2" fill="none" stroke-linejoin="miter"/>
<path d="M53.7,358.0 L159.3,358.0" stroke="#6e2d8e" stroke-width="2" fill="none" stroke-linejoin="miter"/>
<line x1="172.5" y1="285.2" x2="278.47" y2="285.2" stroke="#111" stroke-width="2.2" />
<line x1="173.5" y1="284.09999999999997" x2="173.5" y2="359.0" stroke="#111" stroke-width="2.4" />
<path d="M172.9,348.0 L212.4,348.0 L212.4,286.2" stroke="#cf2a2b" stroke-width="2" fill="none" stroke-linejoin="miter"/>
<path d="M172.9,350.0 L214.6,350.0 L214.6,328.7 L218.7,328.7 L218.7,286.2" stroke="#e98832" stroke-width="2" fill="none" stroke-linejoin="miter"/>
<path d="M172.9,352.0 L218.7,352.0 L218.7,330.0 L223.4,330.0 L223.4,307.0 L233.6,307.0 L233.6,286.2" stroke="#f4e63e" stroke-width="2" fill="none" stroke-linejoin="miter"/>
<path d="M172.9,354.0 L223.8,354.0 L223.8,332.2 L233.4,332.2 L233.4,308.6 L238.9,308.6 L238.9,286.2" stroke="#169a55" stroke-width="2" fill="none" stroke-linejoin="miter"/>
<path d="M172.9,356.0 L233.8,356.0 L233.8,334.2 L249.1,334.2 L249.1,307.9 L278.5,307.9" stroke="#1b74b8" stroke-width="2" fill="none" stroke-linejoin="miter"/>
<path d="M172.9,358.0 L278.5,358.0" stroke="#6e2d8e" stroke-width="2" fill="none" stroke-linejoin="miter"/>
<line x1="291.3" y1="285.2" x2="397.27000000000004" y2="285.2" stroke="#111" stroke-width="2.2" />
<line x1="292.3" y1="284.09999999999997" x2="292.3" y2="359.0" stroke="#111" stroke-width="2.4" />
<path d="M291.7,348.0 L342.2,348.0 L342.2,307.2 L347.5,307.2 L347.5,286.2" stroke="#cf2a2b" stroke-width="2" fill="none" stroke-linejoin="miter"/>
<path d="M291.7,350.0 L347.2,350.0 L347.2,329.4 L352.2,329.4 L352.2,307.5 L357.5,307.5 L357.5,286.2" stroke="#e98832" stroke-width="2" fill="none" stroke-linejoin="miter"/>
<path d="M291.7,352.0 L353.2,352.0 L353.2,331.2 L362.7,331.2 L362.7,307.9 L397.3,307.9" stroke="#f4e63e" stroke-width="2" fill="none" stroke-linejoin="miter"/>
<path d="M291.7,354.0 L372.2,354.0 L372.2,330.4 L397.3,330.4" stroke="#169a55" stroke-width="2" fill="none" stroke-linejoin="miter"/>
<path d="M291.7,356.0 L397.3,356.0" stroke="#1b74b8" stroke-width="2" fill="none" stroke-linejoin="miter"/>
<path d="M291.7,358.0 L397.3,358.0" stroke="#6e2d8e" stroke-width="2" fill="none" stroke-linejoin="miter"/>
<line x1="409.9" y1="285.2" x2="515.87" y2="285.2" stroke="#111" stroke-width="2.2" />
<line x1="410.9" y1="284.09999999999997" x2="410.9" y2="359.0" stroke="#111" stroke-width="2.4" />
<path d="M410.3,348.0 L470.5,348.0 L470.5,330.5 L485.4,330.5 L485.4,307.7 L515.9,307.7" stroke="#cf2a2b" stroke-width="2" fill="none" stroke-linejoin="miter"/>
<path d="M410.3,350.0 L515.9,350.0" stroke="#e98832" stroke-width="2" fill="none" stroke-linejoin="miter"/>
<path d="M410.3,352.0 L515.9,352.0" stroke="#f4e63e" stroke-width="2" fill="none" stroke-linejoin="miter"/>
<path d="M410.3,354.0 L515.9,354.0" stroke="#169a55" stroke-width="2" fill="none" stroke-linejoin="miter"/>
<path d="M410.3,356.0 L515.9,356.0" stroke="#1b74b8" stroke-width="2" fill="none" stroke-linejoin="miter"/>
<path d="M410.3,358.0 L515.9,358.0" stroke="#6e2d8e" stroke-width="2" fill="none" stroke-linejoin="miter"/>
<text transform="translate(18.0,260.5) rotate(-90)" font-family="Liberation Sans" font-weight="bold" font-style="italic" font-size="11.4" fill="#111" stroke="#111" stroke-width="0.3">Gab2<tspan font-size="9.2" dy="-5.8" dx="0.3">+/+</tspan></text>
<text transform="translate(18.0,341.6) rotate(-90)" font-family="Liberation Sans" font-weight="bold" font-style="italic" font-size="11.4" fill="#111" stroke="#111" stroke-width="0.3">Gab2<tspan font-size="9.2" dy="-5.8" dx="0.3">–/–</tspan></text>
<text transform="translate(34.1,319.2) rotate(-90)" font-family="Liberation Sans" font-weight="bold" font-size="9.9" fill="#111" stroke="#111" stroke-width="0.3">No. positive wells</text>
<path d="M35.7,192.6 H31.4 V230.2" stroke="#111" stroke-width="1.3" fill="none" />
<path d="M31.4,325.4 V357.7 H35.7" stroke="#111" stroke-width="1.3" fill="none" />
<text x="20.8" y="372.3" font-family="Liberation Sans" font-weight="bold" font-size="10.3" text-anchor="start" fill="#111"  stroke="#111" stroke-width="0.3">Virus:</text>
<text x="69.7" y="372.3" font-family="Liberation Sans" font-weight="bold" font-size="10.8" text-anchor="start" fill="#111"  stroke="#111" stroke-width="0.3">p210 – GFP</text>
<text x="183.4" y="372.3" font-family="Liberation Sans" font-weight="bold" font-size="10.8" text-anchor="start" fill="#111"  stroke="#111" stroke-width="0.3">p210 – <tspan font-style="italic">Gab2WT</tspan></text>
<text x="302.0" y="372.3" font-family="Liberation Sans" font-weight="bold" font-size="10.8" text-anchor="start" fill="#111"  stroke="#111" stroke-width="0.3">p210 – <tspan font-style="italic">Gab2</tspan><tspan font-weight="normal" stroke-width="0.15">Δ</tspan><tspan font-style="italic">p85</tspan></text>
<text x="415.0" y="372.3" font-family="Liberation Sans" font-weight="bold" font-size="10.8" text-anchor="start" fill="#111"  stroke="#111" stroke-width="0.3">p210 – <tspan font-style="italic">Gab2</tspan><tspan font-weight="normal" stroke-width="0.15">Δ</tspan><tspan font-style="italic">Shp2</tspan></text>
<rect x="53.6" y="381.6" width="157.8" height="74.0" fill="none" stroke="#111" stroke-width="1.4"/>
<text x="102.3" y="395.7" font-family="Liberation Sans" font-size="9.9" text-anchor="start" fill="#111" stroke="#111" stroke-width="0.45"># cells plated:</text>
<line x1="61.5" y1="408.5" x2="84.6" y2="408.5" stroke="#cf2a2b" stroke-width="2.6" />
<line x1="136.9" y1="408.5" x2="160.0" y2="408.5" stroke="#169a55" stroke-width="2.6" />
<text x="88.3" y="413.5" font-family="Liberation Sans" font-size="10.8" text-anchor="start" fill="#111" stroke="#111" stroke-width="0.4">3 x 10<tspan font-size="8.8" dy="-6.4" dx="0.3">5</tspan></text>
<text x="164.2" y="413.5" font-family="Liberation Sans" font-size="10.8" text-anchor="start" fill="#111" stroke="#111" stroke-width="0.4">1 x 10<tspan font-size="8.8" dy="-6.4" dx="0.3">4</tspan></text>
<line x1="61.5" y1="426.1" x2="84.6" y2="426.1" stroke="#e98832" stroke-width="2.6" />
<line x1="136.9" y1="426.1" x2="160.0" y2="426.1" stroke="#1b74b8" stroke-width="2.6" />
<text x="88.3" y="431.1" font-family="Liberation Sans" font-size="10.8" text-anchor="start" fill="#111" stroke="#111" stroke-width="0.4">1 x 10<tspan font-size="8.8" dy="-6.4" dx="0.3">5</tspan></text>
<text x="164.2" y="431.1" font-family="Liberation Sans" font-size="10.8" text-anchor="start" fill="#111" stroke="#111" stroke-width="0.4">3 x 10<tspan font-size="8.8" dy="-6.4" dx="0.3">3</tspan></text>
<line x1="61.5" y1="443.8" x2="84.6" y2="443.8" stroke="#f4e63e" stroke-width="2.6" />
<line x1="136.9" y1="443.8" x2="160.0" y2="443.8" stroke="#6e2d8e" stroke-width="2.6" />
<text x="88.3" y="448.8" font-family="Liberation Sans" font-size="10.8" text-anchor="start" fill="#111" stroke="#111" stroke-width="0.4">3 x 10<tspan font-size="8.8" dy="-6.4" dx="0.3">4</tspan></text>
<text x="164.2" y="448.8" font-family="Liberation Sans" font-size="10.8" text-anchor="start" fill="#111" stroke="#111" stroke-width="0.4">1 x 10<tspan font-size="8.8" dy="-6.4" dx="0.3">3</tspan></text>
<rect x="53.6" y="461.4" width="212.6" height="94.1" fill="none" stroke="#111" stroke-width="1.4"/>
<text x="60.8" y="475.8" font-family="Liberation Sans" font-size="10.0" text-anchor="start" fill="#111" stroke="#111" stroke-width="0.3">BM donor</text>
<line x1="60.8" y1="478.5" x2="103.2" y2="478.5" stroke="#111" stroke-width="1.0" />
<text x="161.9" y="476.2" font-family="Liberation Sans" font-size="10.0" text-anchor="start" fill="#111" stroke="#111" stroke-width="0.3">Virus</text>
<line x1="112.4" y1="478.6" x2="252.3" y2="478.6" stroke="#111" stroke-width="1.3" />
<text x="63.8" y="508.8" font-family="Liberation Sans" font-weight="bold" font-size="10.3" text-anchor="start" fill="#1c1cc8" font-style="italic"  stroke="#1c1cc8" stroke-width="0.3">Gab2<tspan font-size="7.0" dy="-5.0">+/+</tspan></text>
<text x="63.8" y="528.5" font-family="Liberation Sans" font-weight="bold" font-size="10.3" text-anchor="start" fill="#d21f4c" font-style="italic"  stroke="#d21f4c" stroke-width="0.3">Gab2<tspan font-size="7.0" dy="-5.0">–/–</tspan></text>
<line x1="113.8" y1="489.7" x2="138.9" y2="489.7" stroke="#111" stroke-width="2.2" />
<line x1="113.8" y1="507.4" x2="138.9" y2="507.4" stroke="#111" stroke-width="2.4" stroke-dasharray="1.4,1.3"/>
<line x1="113.8" y1="525.5" x2="138.9" y2="525.5" stroke="#111" stroke-width="2.7" stroke-dasharray="6,3.5"/>
<line x1="113.8" y1="543.5" x2="141.6" y2="543.5" stroke="#111" stroke-width="2.7" stroke-dasharray="12.6,4.6"/>
<text transform="translate(146.6,492.4) scale(0.93,1)" font-family="Liberation Sans" font-size="10.2" fill="#111" stroke="#111" stroke-width="0.22">p210-IRES<tspan font-size="6.8" dy="2.6" font-weight="bold">wt</tspan><tspan dy="-2.6">-</tspan><tspan font-style="italic">GFP</tspan></text>
<text transform="translate(146.6,510.45) scale(0.93,1)" font-family="Liberation Sans" font-size="10.2" fill="#111" stroke="#111" stroke-width="0.22">p210-IRES<tspan font-size="6.8" dy="2.6" font-weight="bold">wt</tspan><tspan dy="-2.6">-</tspan><tspan font-style="italic">Gab2WT</tspan></text>
<text transform="translate(146.6,528.5) scale(0.93,1)" font-family="Liberation Sans" font-size="10.2" fill="#111" stroke="#111" stroke-width="0.22">p210-IRES<tspan font-size="6.8" dy="2.6" font-weight="bold">wt</tspan><tspan dy="-2.6">-</tspan><tspan font-style="italic">Gab2<tspan font-style="normal" font-weight="normal" stroke-width="0.15">Δ</tspan>p85</tspan></text>
<text transform="translate(146.6,546.55) scale(0.93,1)" font-family="Liberation Sans" font-size="10.2" fill="#111" stroke="#111" stroke-width="0.22">p210-IRES<tspan font-size="6.8" dy="2.6" font-weight="bold">wt</tspan><tspan dy="-2.6">-</tspan><tspan font-style="italic">Gab2<tspan font-style="normal" font-weight="normal" stroke-width="0.15">Δ</tspan>Shp2</tspan></text>
<text x="272.3" y="14.6" font-family="Liberation Sans" font-weight="bold" font-size="16.5" text-anchor="start" fill="#111"  stroke="#111" stroke-width="0.3">C</text>
<text x="344.4" y="27.4" font-family="Liberation Sans" font-weight="bold" font-size="9.0" text-anchor="end" fill="#111"  stroke="#111" stroke-width="0.3">p210 Virus:</text>
<text x="344.4" y="36.7" font-family="Liberation Sans" font-weight="bold" font-size="9.0" text-anchor="end" fill="#111"  stroke="#111" stroke-width="0.3">BM donor:</text>
<text x="369.2" y="25.0" font-family="Liberation Sans" font-weight="bold" font-size="9.4" text-anchor="middle" fill="#111"  stroke="#111" stroke-width="0.3">neo</text>
<path d="M349.4,31.9 V28.5 H384.8 V31.9" stroke="#111" stroke-width="1.3" fill="none" />
<text x="359.1" y="37.3" font-family="Liberation Sans" font-weight="bold" font-size="7.9" text-anchor="middle" fill="#111"  stroke="#111" stroke-width="0.3">WT</text>
<text x="377.7" y="37.3" font-family="Liberation Sans" font-weight="bold" font-size="7.9" text-anchor="middle" fill="#111"  stroke="#111" stroke-width="0.3">KO</text>
<text x="395.7" y="37.3" font-family="Liberation Sans" font-weight="bold" font-size="7.9" text-anchor="middle" fill="#111"  stroke="#111" stroke-width="0.3">KO</text>
<text x="415.8" y="37.3" font-family="Liberation Sans" font-weight="bold" font-size="7.9" text-anchor="middle" fill="#111"  stroke="#111" stroke-width="0.3">KO</text>
<text x="436.1" y="37.3" font-family="Liberation Sans" font-weight="bold" font-size="7.9" text-anchor="middle" fill="#111"  stroke="#111" stroke-width="0.3">KO</text>
<text x="456.3" y="37.3" font-family="Liberation Sans" font-weight="bold" font-size="7.9" text-anchor="middle" fill="#111"  stroke="#111" stroke-width="0.3">KO</text>
<text x="477.0" y="37.3" font-family="Liberation Sans" font-weight="bold" font-size="7.9" text-anchor="middle" fill="#111"  stroke="#111" stroke-width="0.3">KO</text>
<text transform="translate(394.6,29.6) rotate(-42)" font-family="Liberation Sans" font-weight="bold" font-size="8.5" fill="#111" stroke="#111" stroke-width="0.3"><tspan font-style="italic">Gab2WT</tspan></text>
<text transform="translate(414.4,30.2) rotate(-42)" font-family="Liberation Sans" font-weight="bold" font-size="8.5" fill="#111" stroke="#111" stroke-width="0.3"><tspan font-weight="normal" stroke-width="0.15">Δ</tspan><tspan font-style="italic">p85</tspan></text>
<text transform="translate(435.4,30.2) rotate(-42)" font-family="Liberation Sans" font-weight="bold" font-size="8.5" fill="#111" stroke="#111" stroke-width="0.3"><tspan font-weight="normal" stroke-width="0.15">Δ</tspan><tspan font-style="italic">PH</tspan></text>
<text transform="translate(455.6,30.2) rotate(-42)" font-family="Liberation Sans" font-weight="bold" font-size="8.5" fill="#111" stroke="#111" stroke-width="0.3"><tspan font-weight="normal" stroke-width="0.15">Δ</tspan><tspan font-style="italic">Shp2</tspan></text>
<text transform="translate(476.2,30.2) rotate(-42)" font-family="Liberation Sans" font-weight="bold" font-size="8.5" fill="#111" stroke="#111" stroke-width="0.3"><tspan font-weight="normal" stroke-width="0.15">Δ</tspan><tspan font-style="italic">Grb2</tspan></text>
<text x="335.9" y="50.7" font-family="Liberation Sans" font-weight="bold" font-size="9.0" text-anchor="end" fill="#111"  stroke="#111" stroke-width="0.3"><tspan letter-spacing="-0.2">pBCR-ABL1</tspan></text>
<polygon points="338.0,44.6 345.9,47.7 338.0,50.800000000000004" fill="#111"/>
<text x="335.9" y="61.3" font-family="Liberation Sans" font-weight="bold" font-size="9.0" text-anchor="end" fill="#111"  stroke="#111" stroke-width="0.3">BCR-ABL1</text>
<polygon points="338.0,55.9 345.9,59.0 338.0,62.1" fill="#111"/>
<text x="335.9" y="86.9" font-family="Liberation Sans" font-weight="bold" font-size="9.0" text-anchor="end" fill="#111"  stroke="#111" stroke-width="0.3"><tspan letter-spacing="-0.5">pY</tspan><tspan font-size="6.6" dy="2.6" letter-spacing="-0.2">441</tspan><tspan dy="-2.6" dx="1.2">GAB2</tspan></text>
<polygon points="338.0,80.7 345.9,83.8 338.0,86.89999999999999" fill="#111"/>
<text x="335.9" y="118.2" font-family="Liberation Sans" font-weight="bold" font-size="9.0" text-anchor="end" fill="#111"  stroke="#111" stroke-width="0.3"><tspan letter-spacing="-0.5">pY</tspan><tspan font-size="6.6" dy="2.6" letter-spacing="-0.2">633</tspan><tspan dy="-2.6" dx="1.2">GAB2</tspan></text>
<polygon points="338.0,111.4 345.9,114.5 338.0,117.6" fill="#111"/>
<text x="335.9" y="147.2" font-family="Liberation Sans" font-weight="bold" font-size="9.0" text-anchor="end" fill="#111"  stroke="#111" stroke-width="0.3">GAB2</text>
<polygon points="338.0,141.1 345.9,144.2 338.0,147.29999999999998" fill="#111"/>
<defs><filter id="bl1" x="-50%" y="-100%" width="200%" height="300%"><feGaussianBlur stdDeviation="0.9"/></filter><filter id="bl2" x="-50%" y="-100%" width="200%" height="300%"><feGaussianBlur stdDeviation="1.6"/></filter></defs>
<rect x="349.7" y="40.2" width="134.90000000000003" height="13.399999999999999" fill="#dcdcdc"/>
<rect x="349.7" y="54.8" width="134.90000000000003" height="13.400000000000006" fill="#d4d4d4"/>
<rect x="349.7" y="70.0" width="134.90000000000003" height="29.799999999999997" fill="#eeeeee"/>
<rect x="349.7" y="101.0" width="134.90000000000003" height="26.400000000000006" fill="#cecece"/>
<rect x="349.7" y="128.8" width="134.90000000000003" height="33.79999999999998" fill="#f5f5f5"/>
<rect x="350.6" y="43.3" width="15" height="8.6" rx="3.4" fill="rgb(25,25,25)" filter="url(#bl1)"/>
<rect x="368.2" y="42.5" width="15.5" height="9.4" rx="3.8" fill="rgb(17,17,17)" filter="url(#bl1)"/>
<rect x="386.9" y="42.7" width="15.5" height="9.0" rx="3.6" fill="rgb(25,25,25)" filter="url(#bl1)"/>
<rect x="405.7" y="41.5" width="17" height="10.5" rx="4.2" fill="rgb(7,7,7)" filter="url(#bl1)"/>
<rect x="427.3" y="43.3" width="14" height="4.6" rx="1.8" fill="rgb(127,127,127)" filter="url(#bl1)"/>
<rect x="447.1" y="41.1" width="16.5" height="10.5" rx="4.2" fill="rgb(12,12,12)" filter="url(#bl1)"/>
<rect x="467.6" y="41.6" width="15.5" height="9.5" rx="3.8" fill="rgb(30,30,30)" filter="url(#bl1)"/>
<rect x="427.8" y="43.0" width="6" height="3.5" rx="1.4" fill="rgb(165,165,165)" filter="url(#bl1)"/>
<rect x="350.9" y="56.9" width="14.5" height="4.8" rx="1.9" fill="rgb(38,38,38)" filter="url(#bl1)"/>
<rect x="351.1" y="63.1" width="14" height="3.4" rx="1.4" fill="rgb(140,140,140)" filter="url(#bl1)"/>
<rect x="368.8" y="56.9" width="14.5" height="4.8" rx="1.9" fill="rgb(7,7,7)" filter="url(#bl1)"/>
<rect x="369.0" y="63.1" width="14" height="3.4" rx="1.4" fill="rgb(127,127,127)" filter="url(#bl1)"/>
<rect x="387.4" y="56.9" width="14.5" height="4.8" rx="1.9" fill="rgb(63,63,63)" filter="url(#bl1)"/>
<rect x="387.7" y="63.1" width="14" height="3.4" rx="1.4" fill="rgb(153,153,153)" filter="url(#bl1)"/>
<rect x="406.9" y="56.9" width="14.5" height="4.8" rx="1.9" fill="rgb(25,25,25)" filter="url(#bl1)"/>
<rect x="407.2" y="63.1" width="14" height="3.4" rx="1.4" fill="rgb(140,140,140)" filter="url(#bl1)"/>
<rect x="427.1" y="56.9" width="14.5" height="4.8" rx="1.9" fill="rgb(63,63,63)" filter="url(#bl1)"/>
<rect x="427.3" y="63.1" width="14" height="3.4" rx="1.4" fill="rgb(153,153,153)" filter="url(#bl1)"/>
<rect x="448.1" y="56.9" width="14.5" height="4.8" rx="1.9" fill="rgb(63,63,63)" filter="url(#bl1)"/>
<rect x="448.3" y="63.1" width="14" height="3.4" rx="1.4" fill="rgb(153,153,153)" filter="url(#bl1)"/>
<rect x="468.1" y="56.9" width="14.5" height="4.8" rx="1.9" fill="rgb(50,50,50)" filter="url(#bl1)"/>
<rect x="468.4" y="63.1" width="14" height="3.4" rx="1.4" fill="rgb(147,147,147)" filter="url(#bl1)"/>
<rect x="351.9" y="76.6" width="12.5" height="3.6" rx="1.4" fill="rgb(153,153,153)" filter="url(#bl1)"/>
<rect x="387.7" y="71.8" width="14" height="7.5" rx="3.0" fill="rgb(0,0,0)" filter="url(#bl1)"/>
<rect x="427.6" y="88.4" width="13.5" height="6.2" rx="2.5" fill="rgb(0,0,0)" filter="url(#bl1)"/>
<rect x="448.3" y="72.7" width="14" height="7.8" rx="3.1" fill="rgb(0,0,0)" filter="url(#bl1)"/>
<rect x="448.3" y="88.4" width="14" height="6.2" rx="2.5" fill="rgb(0,0,0)" filter="url(#bl1)"/>
<rect x="420.5" y="101.0" width="24" height="26.4" fill="#e2e2e2" filter="url(#bl1)"/>
<rect x="366" y="101.0" width="18" height="26.4" fill="#dadada" filter="url(#bl1)"/>
<rect x="351.1" y="112.1" width="14" height="5.0" rx="2.0" fill="rgb(107,107,107)" filter="url(#bl1)"/>
<rect x="370.0" y="121.4" width="12" height="3.2" rx="1.3" fill="rgb(165,165,165)" filter="url(#bl1)"/>
<rect x="385.7" y="101.0" width="18" height="15" rx="6.0" fill="rgb(0,0,0)" filter="url(#bl2)"/>
<rect x="387.2" y="121.5" width="15" height="3.8" rx="1.5" fill="rgb(102,102,102)" filter="url(#bl1)"/>
<rect x="407.7" y="106.2" width="13" height="4.4" rx="1.8" fill="rgb(114,114,114)" filter="url(#bl1)"/>
<rect x="407.2" y="121.4" width="14" height="3.8" rx="1.5" fill="rgb(89,89,89)" filter="url(#bl1)"/>
<rect x="421.1" y="118.7" width="20" height="7.4" rx="3.0" fill="rgb(0,0,0)" filter="url(#bl1)"/>
<rect x="448.8" y="122.1" width="13" height="2.8" rx="1.1" fill="rgb(191,191,191)" filter="url(#bl1)"/>
<rect x="468.9" y="122.1" width="13" height="2.8" rx="1.1" fill="rgb(178,178,178)" filter="url(#bl1)"/>
<rect x="351.4" y="142.3" width="13.5" height="4.0" rx="1.6" fill="rgb(7,7,7)" filter="url(#bl1)"/>
<rect x="386.7" y="135.2" width="16" height="10.5" rx="4.2" fill="rgb(0,0,0)" filter="url(#bl1)"/>
<rect x="387.7" y="148.0" width="14" height="10" rx="4.0" fill="rgb(198,198,198)" filter="url(#bl2)"/>
<rect x="407.7" y="139.2" width="13" height="4.2" rx="1.7" fill="rgb(89,89,89)" filter="url(#bl1)"/>
<rect x="407.7" y="150.5" width="13" height="6" rx="2.4" fill="rgb(191,191,191)" filter="url(#bl1)"/>
<rect x="426.8" y="151.6" width="15" height="8" rx="3.2" fill="rgb(71,71,71)" filter="url(#bl1)"/>
<rect x="447.8" y="138.6" width="15" height="5.2" rx="2.1" fill="rgb(20,20,20)" filter="url(#bl1)"/>
<rect x="448.3" y="148.0" width="14" height="8" rx="3.2" fill="rgb(191,191,191)" filter="url(#bl2)"/>
<rect x="468.1" y="139.7" width="14.5" height="4.6" rx="1.8" fill="rgb(0,0,0)" filter="url(#bl1)"/>
<rect x="468.4" y="149.2" width="14" height="8.5" rx="3.4" fill="rgb(158,158,158)" filter="url(#bl2)"/>
<rect x="384.9" y="40.6" width="1.0" height="121.6" fill="#ffffff" opacity="0.5"/>
<rect x="404.0" y="40.6" width="1.0" height="121.6" fill="#ffffff" opacity="0.5"/>
<rect x="424.1" y="40.6" width="1.0" height="121.6" fill="#ffffff" opacity="0.5"/>
<rect x="444.7" y="40.6" width="1.0" height="121.6" fill="#ffffff" opacity="0.5"/>
<rect x="465.5" y="40.6" width="1.0" height="121.6" fill="#ffffff" opacity="0.5"/>
<text x="272.6" y="399.7" font-family="Liberation Sans" font-weight="bold" font-size="15.5" text-anchor="start" fill="#111"  stroke="#111" stroke-width="0.3">D</text>
<line x1="324.2" y1="395.6" x2="324.2" y2="525.7" stroke="#111" stroke-width="1.5" />
<line x1="317.8" y1="525.7" x2="512.0" y2="525.7" stroke="#111" stroke-width="1.8" />
<line x1="318.9" y1="525.7" x2="324.2" y2="525.7" stroke="#111" stroke-width="1.2" />
<text x="316.6" y="529.0" font-family="Liberation Sans" font-weight="bold" font-size="9.4" text-anchor="end" fill="#111"  stroke="#111" stroke-width="0.3">0</text>
<line x1="318.9" y1="500.50000000000006" x2="324.2" y2="500.50000000000006" stroke="#111" stroke-width="1.2" />
<text x="316.6" y="503.80000000000007" font-family="Liberation Sans" font-weight="bold" font-size="9.4" text-anchor="end" fill="#111"  stroke="#111" stroke-width="0.3">20</text>
<line x1="318.9" y1="475.30000000000007" x2="324.2" y2="475.30000000000007" stroke="#111" stroke-width="1.2" />
<text x="316.6" y="478.6000000000001" font-family="Liberation Sans" font-weight="bold" font-size="9.4" text-anchor="end" fill="#111"  stroke="#111" stroke-width="0.3">40</text>
<line x1="318.9" y1="450.1" x2="324.2" y2="450.1" stroke="#111" stroke-width="1.2" />
<text x="316.6" y="453.40000000000003" font-family="Liberation Sans" font-weight="bold" font-size="9.4" text-anchor="end" fill="#111"  stroke="#111" stroke-width="0.3">60</text>
<line x1="318.9" y1="424.90000000000003" x2="324.2" y2="424.90000000000003" stroke="#111" stroke-width="1.2" />
<text x="316.6" y="428.20000000000005" font-family="Liberation Sans" font-weight="bold" font-size="9.4" text-anchor="end" fill="#111"  stroke="#111" stroke-width="0.3">80</text>
<line x1="318.9" y1="399.70000000000005" x2="324.2" y2="399.70000000000005" stroke="#111" stroke-width="1.2" />
<text x="316.6" y="403.00000000000006" font-family="Liberation Sans" font-weight="bold" font-size="9.4" text-anchor="end" fill="#111"  stroke="#111" stroke-width="0.3">100</text>
<line x1="321.6" y1="513.1" x2="324.2" y2="513.1" stroke="#111" stroke-width="1.0" />
<line x1="321.6" y1="487.90000000000003" x2="324.2" y2="487.90000000000003" stroke="#111" stroke-width="1.0" />
<line x1="321.6" y1="462.70000000000005" x2="324.2" y2="462.70000000000005" stroke="#111" stroke-width="1.0" />
<line x1="321.6" y1="437.50000000000006" x2="324.2" y2="437.50000000000006" stroke="#111" stroke-width="1.0" />
<line x1="321.6" y1="412.30000000000007" x2="324.2" y2="412.30000000000007" stroke="#111" stroke-width="1.0" />
<line x1="324.2" y1="525.7" x2="324.2" y2="529.6" stroke="#111" stroke-width="1.0" />
<line x1="338.57" y1="525.7" x2="338.57" y2="529.6" stroke="#111" stroke-width="1.0" />
<line x1="352.94" y1="525.7" x2="352.94" y2="529.6" stroke="#111" stroke-width="1.0" />
<line x1="367.31" y1="525.7" x2="367.31" y2="529.6" stroke="#111" stroke-width="1.0" />
<line x1="381.68" y1="525.7" x2="381.68" y2="529.6" stroke="#111" stroke-width="1.0" />
<line x1="396.04999999999995" y1="525.7" x2="396.04999999999995" y2="529.6" stroke="#111" stroke-width="1.0" />
<line x1="410.41999999999996" y1="525.7" x2="410.41999999999996" y2="529.6" stroke="#111" stroke-width="1.0" />
<line x1="424.78999999999996" y1="525.7" x2="424.78999999999996" y2="529.6" stroke="#111" stroke-width="1.0" />
<line x1="439.15999999999997" y1="525.7" x2="439.15999999999997" y2="529.6" stroke="#111" stroke-width="1.0" />
<line x1="453.53" y1="525.7" x2="453.53" y2="529.6" stroke="#111" stroke-width="1.0" />
<line x1="467.9" y1="525.7" x2="467.9" y2="529.6" stroke="#111" stroke-width="1.0" />
<line x1="482.27" y1="525.7" x2="482.27" y2="529.6" stroke="#111" stroke-width="1.0" />
<line x1="496.64" y1="525.7" x2="496.64" y2="529.6" stroke="#111" stroke-width="1.0" />
<line x1="511.01" y1="525.7" x2="511.01" y2="529.6" stroke="#111" stroke-width="1.0" />
<text x="324.2" y="543.8" font-family="Liberation Sans" font-weight="bold" font-size="9.9" text-anchor="middle" fill="#111"  stroke="#111" stroke-width="0.3">0</text>
<text x="381.7" y="543.8" font-family="Liberation Sans" font-weight="bold" font-size="9.9" text-anchor="middle" fill="#111"  stroke="#111" stroke-width="0.3">28</text>
<text x="439.2" y="543.8" font-family="Liberation Sans" font-weight="bold" font-size="9.9" text-anchor="middle" fill="#111"  stroke="#111" stroke-width="0.3">56</text>
<text x="496.7" y="543.8" font-family="Liberation Sans" font-weight="bold" font-size="9.9" text-anchor="middle" fill="#111"  stroke="#111" stroke-width="0.3">84</text>
<text x="341.2" y="556.8" font-family="Liberation Sans" font-weight="bold" font-size="10.9" text-anchor="start" fill="#111"  stroke="#111" stroke-width="0.3">Days after transplantation</text>
<text transform="translate(297.5,506.3) rotate(-90)" font-family="Liberation Sans" font-weight="bold" font-size="10.6" fill="#111" stroke="#111" stroke-width="0.3">Percent survival</text>
<path d="M324.5,396.7 L456.2,396.7 L456.2,413.5 L458.5,413.5 L458.5,430.8 L466.2,430.8 L466.2,446.5 L511,446.5" stroke="#e8222a" stroke-width="2.5" fill="none"/>
<path d="M324.5,399.0 L449.2,399.0 L449.2,415 L463.8,415 L463.8,428 L477.7,428 L477.7,446.5 L490,446.5 L490,460.4 L511,460.4" stroke="#e8222a" stroke-width="2.4" fill="none" stroke-dasharray="7,2.4"/>
<path d="M324.5,400.0 L403.7,400.0 L403.7,414 L412.5,414 L412.5,494 L420.8,494 L420.8,510.5 L487.4,510.5 L487.4,525.7" stroke="#e8222a" stroke-width="2.5" fill="none" stroke-dasharray="3.8,2"/>
<path d="M324.5,404.6 L375,404.6 L375,432.7 L385.7,432.7 L385.7,446 L387,446 L387,462.5 L394.3,462.5 L394.3,494.7 L399.9,494.7 L399.9,509.1 L408,509.1 L408,525.7" stroke="#c02a30" stroke-width="2.6" fill="none" stroke-dasharray="1.4,1.7"/>
<path d="M324.5,402.7 L380.7,402.7 L380.7,430.8 L382.5,430.8 L382.5,446.4 L391.1,446.4 L391.1,462.5 L393,462.5 L393,496.3 L395.9,496.3 L395.9,510.5 L400.4,510.5 L400.4,525.7" stroke="#1414e6" stroke-width="2.6" fill="none"/>
</svg>
</body></html>
